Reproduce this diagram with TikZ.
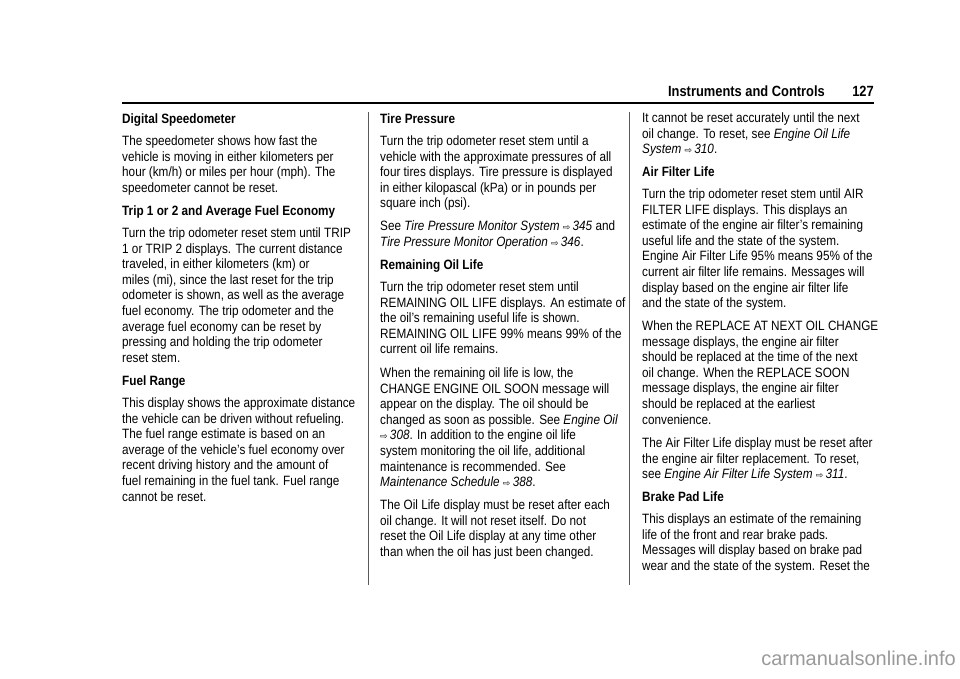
\documentclass[tikz,border=0pt]{standalone}
\usepackage{fontspec}
\setmainfont{Liberation Sans}[FakeStretch=0.87]
\newfontfamily\symf{DejaVu Sans}
\newfontfamily\wmf{Liberation Sans}
\newcounter{lnc}
\newcommand\TL[3]{\stepcounter{lnc}\node[txt] (t\thelnc) at (#1,{678-#2-4.5}) {#3};}
\newcommand\ar{{\upshape\symf\small ⇨}\,}
\begin{document}
\begin{tikzpicture}[x=1pt,y=1pt,txt/.style={anchor=base west,inner sep=0pt,font=\fontsize{13.5}{15}\selectfont}]
\useasboundingbox (0,0) rectangle (960,678);
\fill[white] (0,0) rectangle (960,678);
% header
\node[anchor=base east,inner sep=0pt,font=\fontsize{14.8}{16}\bfseries] (hd) at (825,581) {Instruments and Controls};
\node[anchor=base east,inner sep=0pt,font=\fontsize{14.8}{16}\bfseries] (pg) at (874,581) {127};
\draw[line width=1.2pt] (122,575) -- (874,575);
\draw[line width=1pt,gray!70!black] (368,566) -- (368,93);
\draw[line width=1pt,gray!70!black] (629,566) -- (629,93);
% column 1
\TL{122}{119}{\bfseries Digital Speedometer}
\TL{122}{141}{The speedometer shows how fast the}
\TL{122}{156.6}{vehicle is moving in either kilometers per}
\TL{122}{172.2}{hour (km/h) or miles per hour (mph). The}
\TL{122}{187.8}{speedometer cannot be reset.}
\TL{122}{211}{\bfseries Trip 1 or 2 and Average Fuel Economy}
\TL{122}{233}{Turn the trip odometer reset stem until TRIP}
\TL{122}{248.6}{1 or TRIP 2 displays. The current distance}
\TL{122}{264.2}{traveled, in either kilometers (km) or}
\TL{122}{279.8}{miles (mi), since the last reset for the trip}
\TL{122}{295.4}{odometer is shown, as well as the average}
\TL{122}{311}{fuel economy. The trip odometer and the}
\TL{122}{326.6}{average fuel economy can be reset by}
\TL{122}{342.2}{pressing and holding the trip odometer}
\TL{122}{357.8}{reset stem.}
\TL{122}{381}{\bfseries Fuel Range}
\TL{122}{403}{This display shows the approximate distance}
\TL{122}{418.6}{the vehicle can be driven without refueling.}
\TL{122}{434.2}{The fuel range estimate is based on an}
\TL{122}{449.8}{average of the vehicle's fuel economy over}
\TL{122}{465.4}{recent driving history and the amount of}
\TL{122}{481}{fuel remaining in the fuel tank. Fuel range}
\TL{122}{496.6}{cannot be reset.}
% column 2
\TL{380}{119}{\bfseries Tire Pressure}
\TL{380}{141}{Turn the trip odometer reset stem until a}
\TL{380}{156.6}{vehicle with the approximate pressures of all}
\TL{380}{172.2}{four tires displays. Tire pressure is displayed}
\TL{380}{187.8}{in either kilopascal (kPa) or in pounds per}
\TL{380}{203.4}{square inch (psi).}
\TL{380}{226}{See \textit{Tire Pressure Monitor System} \ar\textit{345} and}
\TL{380}{241.6}{\textit{Tire Pressure Monitor Operation} \ar\textit{346}.}
\TL{380}{265}{\bfseries Remaining Oil Life}
\TL{380}{287}{Turn the trip odometer reset stem until}
\TL{380}{302.6}{REMAINING OIL LIFE displays. An estimate of}
\TL{380}{318.2}{the oil's remaining useful life is shown.}
\TL{380}{333.8}{REMAINING OIL LIFE 99\% means 99\% of the}
\TL{380}{349.4}{current oil life remains.}
\TL{380}{373}{When the remaining oil life is low, the}
\TL{380}{388.6}{CHANGE ENGINE OIL SOON message will}
\TL{380}{404.2}{appear on the display. The oil should be}
\TL{380}{419.8}{changed as soon as possible. See \textit{Engine Oil}}
\TL{380}{435.4}{\ar\textit{308}. In addition to the engine oil life}
\TL{380}{451}{system monitoring the oil life, additional}
\TL{380}{466.6}{maintenance is recommended. See}
\TL{380}{482.2}{\textit{Maintenance Schedule} \ar\textit{388}.}
\TL{380}{505}{The Oil Life display must be reset after each}
\TL{380}{520.6}{oil change. It will not reset itself. Do not}
\TL{380}{536.2}{reset the Oil Life display at any time other}
\TL{380}{551.8}{than when the oil has just been changed.}
% column 3
\TL{642}{118}{It cannot be reset accurately until the next}
\TL{642}{133.6}{oil change. To reset, see \textit{Engine Oil Life}}
\TL{642}{149.2}{\textit{System} \ar\textit{310}.}
\TL{642}{172}{\bfseries Air Filter Life}
\TL{642}{194}{Turn the trip odometer reset stem until AIR}
\TL{642}{209.6}{FILTER LIFE displays. This displays an}
\TL{642}{225.2}{estimate of the engine air filter's remaining}
\TL{642}{240.8}{useful life and the state of the system.}
\TL{642}{256.4}{Engine Air Filter Life 95\% means 95\% of the}
\TL{642}{272}{current air filter life remains. Messages will}
\TL{642}{287.6}{display based on the engine air filter life}
\TL{642}{303.2}{and the state of the system.}
\TL{642}{326}{When the REPLACE AT NEXT OIL CHANGE}
\TL{642}{341.6}{message displays, the engine air filter}
\TL{642}{357.2}{should be replaced at the time of the next}
\TL{642}{372.8}{oil change. When the REPLACE SOON}
\TL{642}{388.4}{message displays, the engine air filter}
\TL{642}{404}{should be replaced at the earliest}
\TL{642}{419.6}{convenience.}
\TL{642}{443}{The Air Filter Life display must be reset after}
\TL{642}{458.6}{the engine air filter replacement. To reset,}
\TL{642}{474.2}{see \textit{Engine Air Filter Life System} \ar\textit{311}.}
\TL{642}{497}{\bfseries Brake Pad Life}
\TL{642}{519}{This displays an estimate of the remaining}
\TL{642}{534.6}{life of the front and rear brake pads.}
\TL{642}{550.2}{Messages will display based on brake pad}
\TL{642}{565.8}{wear and the state of the system. Reset the}
% watermark
\node[anchor=base east,inner sep=0pt,font=\wmf\fontsize{20}{22}\selectfont,text=gray!80] (wm) at (956,13) {carmanualsonline.info};
\end{tikzpicture}
\end{document}
